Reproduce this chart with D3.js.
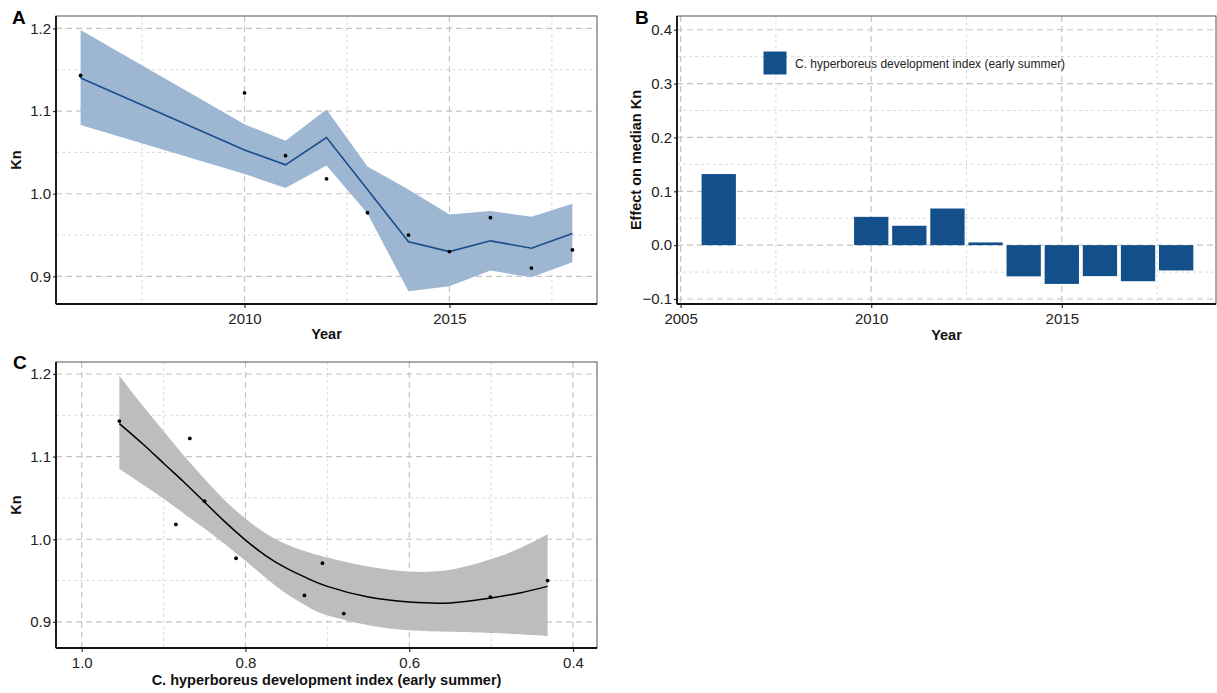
<!DOCTYPE html>
<html>
<head>
<meta charset="utf-8">
<script src="https://cdn.jsdelivr.net/npm/d3@7/dist/d3.min.js"></script>
<style>
  html, body { margin: 0; padding: 0; background: #ffffff; }
  svg { display: block; font-family: "Liberation Sans", Arial, sans-serif; }
</style>
</head>
<body>
<svg id="fig" width="1217" height="693"></svg>
<script>
// ---- Panel A: Kn by year (observed, fitted, confidence band) ----
const years      = [2006, 2010, 2011, 2012, 2013, 2014, 2015, 2016, 2017, 2018];
const knObserved = [1.143, 1.122, 1.046, 1.018, 0.977, 0.950, 0.930, 0.971, 0.910, 0.932];
const knFit      = [1.140, 1.053, 1.035, 1.068, 1.005, 0.942, 0.930, 0.943, 0.934, 0.952];
const knUpper    = [1.198, 1.084, 1.064, 1.102, 1.033, 1.005, 0.975, 0.979, 0.972, 0.988];
const knLower    = [1.083, 1.024, 1.007, 1.034, 0.976, 0.882, 0.888, 0.907, 0.899, 0.917];

// ---- Panel B: effect of C. hyperboreus development index on median Kn ----
const effectYears = [2006, 2010, 2011, 2012, 2013, 2014, 2015, 2016, 2017, 2018];
const effectValues = [0.132, 0.0525, 0.036, 0.068, 0.005, -0.058, -0.072, -0.0575, -0.067, -0.047];
const legendLabel = "C. hyperboreus development index (early summer)";

// ---- Panel C: Kn against development index, with smooth fit ----
const devIndex = [0.954, 0.868, 0.850, 0.885, 0.8115, 0.431, 0.501, 0.706, 0.680, 0.728];
const smoothX     = [0.954, 0.925, 0.900, 0.875, 0.850, 0.825, 0.800, 0.775, 0.750, 0.725, 0.700, 0.650, 0.600, 0.550, 0.500, 0.465, 0.431];
const smoothFit   = [1.140, 1.115, 1.092, 1.069, 1.045, 1.021, 0.999, 0.980, 0.965, 0.953, 0.943, 0.930, 0.924, 0.923, 0.929, 0.935, 0.943];
const smoothUpper = [1.198, 1.161, 1.131, 1.101, 1.073, 1.047, 1.025, 1.007, 0.994, 0.985, 0.978, 0.967, 0.961, 0.963, 0.976, 0.989, 1.006];
const smoothLower = [1.085, 1.066, 1.049, 1.031, 1.013, 0.994, 0.974, 0.953, 0.934, 0.919, 0.908, 0.896, 0.890, 0.888, 0.8865, 0.885, 0.883];

// Tick values
const yearTicksA = [2010, 2015];
const yearTicksB = [2005, 2010, 2015];
const knTicks = [0.9, 1.0, 1.1, 1.2];
const effectTicks = [-0.1, 0.0, 0.1, 0.2, 0.3, 0.4];
const devTicks = [1.0, 0.8, 0.6, 0.4];

const svg = d3.select("#fig");

const COL_BLUE = "#124f8b";
const COL_RIBBON = "#9db7d3";
const COL_GREY_RIBBON = "#bdbdbd";

function panel(box, x, y, opts) {
  const g = svg.append("g");
  // minor grid
  const minorX = opts.minorX || [], minorY = opts.minorY || [];
  g.append("g").selectAll("line.mx").data(minorX).join("line")
    .attr("x1", d => x(d)).attr("x2", d => x(d))
    .attr("y1", box.top).attr("y2", box.bottom)
    .attr("stroke", "#dadada").attr("stroke-width", 1).attr("stroke-dasharray", "3,3");
  g.append("g").selectAll("line.my").data(minorY).join("line")
    .attr("y1", d => y(d)).attr("y2", d => y(d))
    .attr("x1", box.left).attr("x2", box.right)
    .attr("stroke", "#dadada").attr("stroke-width", 1).attr("stroke-dasharray", "3,3");
  // major grid
  g.append("g").selectAll("line").data(opts.majorX).join("line")
    .attr("x1", d => x(d)).attr("x2", d => x(d))
    .attr("y1", box.top).attr("y2", box.bottom)
    .attr("stroke", "#c4c4c4").attr("stroke-width", 1.2).attr("stroke-dasharray", "6,4");
  g.append("g").selectAll("line").data(opts.majorY).join("line")
    .attr("y1", d => y(d)).attr("y2", d => y(d))
    .attr("x1", box.left).attr("x2", box.right)
    .attr("stroke", "#c4c4c4").attr("stroke-width", 1.2).attr("stroke-dasharray", "6,4");
  return g;
}

function frame(box, x, y, opts) {
  const g = svg.append("g");
  g.append("rect")
    .attr("x", box.left).attr("y", box.top)
    .attr("width", box.right - box.left).attr("height", box.bottom - box.top)
    .attr("fill", "none").attr("stroke", "#555").attr("stroke-width", 1);

  const ax = g.append("g").attr("transform", `translate(0,${box.bottom})`)
    .call(d3.axisBottom(x).tickValues(opts.xTicks).tickSize(4).tickPadding(5).tickFormat(opts.xFormat));
  const ay = g.append("g").attr("transform", `translate(${box.left},0)`)
    .call(d3.axisLeft(y).tickValues(opts.yTicks).tickSize(3).tickPadding(2).tickFormat(opts.yFormat));
  [ax, ay].forEach(a => {
    a.select(".domain").remove();
    a.selectAll(".tick line").attr("stroke", "#333").attr("stroke-width", 1.2);
    a.selectAll(".tick text").attr("fill", "#222").attr("font-size", 15)
      .attr("font-family", "'Liberation Sans', Arial, sans-serif");
  });
  // axis lines
  g.append("line").attr("x1", box.left).attr("x2", box.left)
    .attr("y1", box.top).attr("y2", box.bottom).attr("stroke", "#111").attr("stroke-width", 1.8);
  g.append("line").attr("x1", box.left).attr("x2", box.right)
    .attr("y1", box.bottom).attr("y2", box.bottom).attr("stroke", "#111").attr("stroke-width", 1.8);

  // titles
  g.append("text").attr("x", (box.left + box.right) / 2).attr("y", opts.xTitleY)
    .attr("text-anchor", "middle").attr("font-weight", "bold").attr("font-size", 14.5)
    .attr("fill", "#111").text(opts.xTitle);
  g.append("text")
    .attr("transform", `translate(${opts.yTitleX},${(box.top + box.bottom) / 2}) rotate(-90)`)
    .attr("text-anchor", "middle").attr("font-weight", "bold").attr("font-size", 14.5)
    .attr("fill", "#111").text(opts.yTitle);
  g.append("text").attr("x", opts.tagX).attr("y", opts.tagY)
    .attr("font-weight", "bold").attr("font-size", 19).attr("fill", "#000").text(opts.tag);
}

const fmt1 = d3.format(".1f");

// ================= Panel A =================
{
  const box = { left: 56, right: 597, top: 16, bottom: 304 };
  const x = d3.scaleLinear().domain([2005.4, 2018.6]).range([box.left, box.right]);
  const y = d3.scaleLinear().domain([0.8666, 1.215]).range([box.bottom, box.top]);
  panel(box, x, y, {
    majorX: yearTicksA, majorY: knTicks,
    minorX: [2007.5, 2012.5, 2017.5], minorY: [0.95, 1.05, 1.15]
  });
  const rows = years.map((yr, i) => ({ yr, obs: knObserved[i], fit: knFit[i], lo: knLower[i], hi: knUpper[i] }));
  svg.append("path").datum(rows)
    .attr("d", d3.area().x(d => x(d.yr)).y0(d => y(d.lo)).y1(d => y(d.hi)))
    .attr("fill", COL_RIBBON);
  svg.append("path").datum(rows)
    .attr("d", d3.line().x(d => x(d.yr)).y(d => y(d.fit)))
    .attr("fill", "none").attr("stroke", "#1a4c88").attr("stroke-width", 1.6);
  svg.append("g").selectAll("circle").data(rows).join("circle")
    .attr("cx", d => x(d.yr)).attr("cy", d => y(d.obs)).attr("r", 1.9).attr("fill", "#000");
  frame(box, x, y, {
    xTicks: yearTicksA, yTicks: knTicks, xFormat: d3.format("d"), yFormat: fmt1,
    xTitle: "Year", yTitle: "Kn", xTitleY: 339, yTitleX: 21, tag: "A", tagX: 12, tagY: 24
  });
}

// ================= Panel B =================
{
  const box = { left: 677, right: 1216, top: 16, bottom: 304 };
  const x = d3.scaleLinear().domain([2004.905, 2019.045]).range([box.left, box.right]);
  const y = d3.scaleLinear().domain([-0.1093, 0.4255]).range([box.bottom, box.top]);
  panel(box, x, y, {
    majorX: yearTicksB, majorY: effectTicks,
    minorX: [2007.5, 2012.5, 2017.5], minorY: [-0.05, 0.05, 0.15, 0.25, 0.35]
  });
  const bw = x(0.9) - x(0);
  svg.append("g").selectAll("rect").data(effectYears.map((yr, i) => ({ yr, v: effectValues[i] }))).join("rect")
    .attr("x", d => x(d.yr) - bw / 2).attr("width", bw)
    .attr("y", d => y(Math.max(0, d.v)))
    .attr("height", d => Math.abs(y(d.v) - y(0)))
    .attr("fill", COL_BLUE);
  // legend
  svg.append("rect").attr("x", 763.5).attr("y", 51.5).attr("width", 23).attr("height", 23).attr("fill", COL_BLUE);
  svg.append("text").attr("x", 795).attr("y", 67.5).attr("font-size", 12).attr("fill", "#222").text(legendLabel);
  frame(box, x, y, {
    xTicks: yearTicksB, yTicks: effectTicks, xFormat: d3.format("d"), yFormat: fmt1,
    xTitle: "Year", yTitle: "Effect on median Kn", xTitleY: 340, yTitleX: 641, tag: "B", tagX: 635, tagY: 24
  });
}

// ================= Panel C =================
{
  const box = { left: 56, right: 597, top: 362, bottom: 648 };
  const x = d3.scaleLinear().domain([1.0314, 0.3707]).range([box.left, box.right]);
  const y = d3.scaleLinear().domain([0.8684, 1.2145]).range([box.bottom, box.top]);
  panel(box, x, y, {
    majorX: devTicks, majorY: knTicks,
    minorX: [0.9, 0.7, 0.5], minorY: [0.95, 1.05, 1.15]
  });
  const band = smoothX.map((v, i) => ({ v, fit: smoothFit[i], lo: smoothLower[i], hi: smoothUpper[i] }));
  svg.append("path").datum(band)
    .attr("d", d3.area().curve(d3.curveNatural).x(d => x(d.v)).y0(d => y(d.lo)).y1(d => y(d.hi)))
    .attr("fill", COL_GREY_RIBBON);
  svg.append("path").datum(band)
    .attr("d", d3.line().curve(d3.curveNatural).x(d => x(d.v)).y(d => y(d.fit)))
    .attr("fill", "none").attr("stroke", "#000").attr("stroke-width", 1.5);
  svg.append("g").selectAll("circle").data(devIndex.map((v, i) => ({ v, kn: knObserved[i] }))).join("circle")
    .attr("cx", d => x(d.v)).attr("cy", d => y(d.kn)).attr("r", 1.9).attr("fill", "#000");
  frame(box, x, y, {
    xTicks: devTicks, yTicks: knTicks, xFormat: fmt1, yFormat: fmt1,
    xTitle: legendLabel, yTitle: "Kn", xTitleY: 685, yTitleX: 21, tag: "C", tagX: 13, tagY: 369
  });
}
</script>
</body>
</html>
